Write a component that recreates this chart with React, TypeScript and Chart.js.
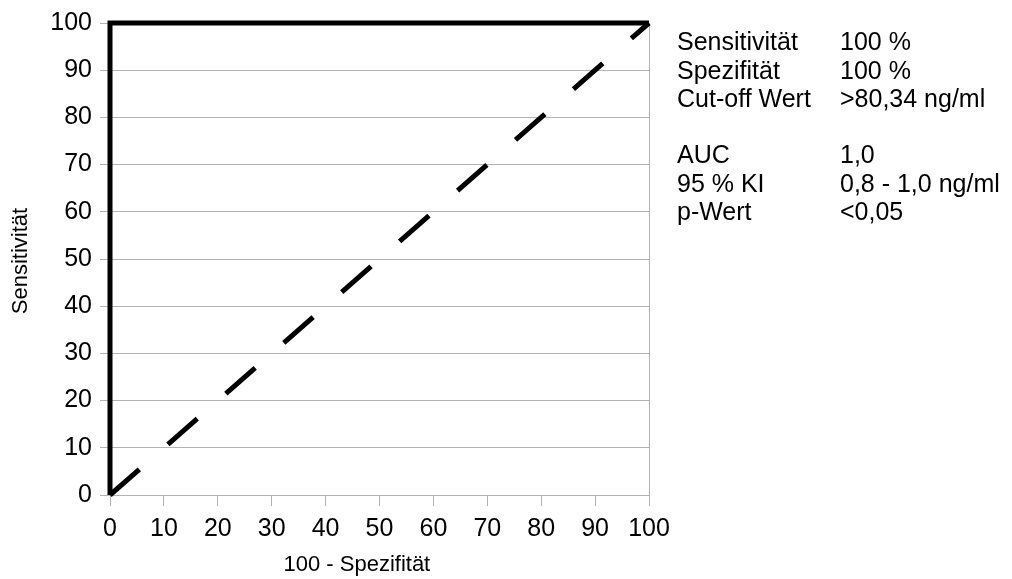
import React, { useEffect, useRef } from "react";
import { Chart, registerables } from "chart.js";

Chart.register(...registerables);

const rocX = [0, 0, 100];
const rocY = [0, 100, 100];
const refX = [0, 100];
const refY = [0, 100];
const tickValues = [0, 10, 20, 30, 40, 50, 60, 70, 80, 90, 100];
const xTitle = "100 - Spezifität";
const yTitle = "Sensitivität";
const statLabels1 = ["Sensitivität", "Spezifität", "Cut-off Wert"];
const statValues1 = ["100 %", "100 %", ">80,34 ng/ml"];
const statLabels2 = ["AUC", "95 % KI", "p-Wert"];
const statValues2 = ["1,0", "0,8 - 1,0 ng/ml", "<0,05"];

const FONT = "'Liberation Sans', Arial, sans-serif";
const GRID = "#b3b3b3";

const overlay = {
  id: "overlay",
  beforeDatasetsDraw(chart: any) {
    const { ctx, chartArea } = chart;
    ctx.save();
    ctx.strokeStyle = GRID;
    ctx.lineWidth = 1;
    ctx.beginPath();
    ctx.moveTo(Math.round(chartArea.right) + 0.5, chartArea.top);
    ctx.lineTo(Math.round(chartArea.right) + 0.5, chartArea.bottom);
    ctx.stroke();
    ctx.restore();
  },
  afterDraw(chart: any) {
    const { ctx, chartArea } = chart;
    ctx.save();
    ctx.fillStyle = "#000";
    // axis titles
    ctx.font = `22px ${FONT}`;
    ctx.textAlign = "center";
    ctx.textBaseline = "alphabetic";
    ctx.fillText(xTitle, chartArea.left + (chartArea.right - chartArea.left) * 0.458, 571);
    ctx.save();
    ctx.translate(27, (chartArea.top + chartArea.bottom) / 2 + 2);
    ctx.rotate(-Math.PI / 2);
    ctx.fillText(yTitle, 0, 0);
    ctx.restore();
    // stats text
    ctx.font = `25px ${FONT}`;
    ctx.textAlign = "left";
    const col1 = chartArea.right + 28;
    const col2 = chartArea.right + 191;
    const lh = 28.5;
    statLabels1.forEach((t, i) => {
      ctx.fillText(t, col1, 50 + i * lh);
      ctx.fillText(statValues1[i], col2, 50 + i * lh);
    });
    statLabels2.forEach((t, i) => {
      ctx.fillText(t, col1, 163 + i * lh);
      ctx.fillText(statValues2[i], col2, 163 + i * lh);
    });
    ctx.restore();
  },
};

export default function App() {
  const ref = useRef<HTMLCanvasElement>(null);
  useEffect(() => {
    if (!ref.current) return;
    const chart = new Chart(ref.current, {
      type: "scatter",
      data: {
        datasets: [
          {
            data: refX.map((x, i) => ({ x, y: refY[i] })),
            showLine: true,
            borderColor: "#000",
            borderWidth: 5,
            borderDash: [39, 38],
            borderCapStyle: "butt",
            pointRadius: 0,
            clip: false,
          } as any,
          {
            data: rocX.map((x, i) => ({ x, y: rocY[i] })),
            showLine: true,
            borderColor: "#000",
            borderWidth: 5,
            borderJoinStyle: "miter",
            borderCapStyle: "butt",
            pointRadius: 0,
            clip: false,
          } as any,
        ],
      },
      options: {
        animation: false,
        responsive: false,
        layout: { padding: { left: 50, right: 363, top: 21, bottom: 0 } },
        plugins: { legend: { display: false }, tooltip: { enabled: false } },
        scales: {
          x: {
            type: "linear",
            min: 0,
            max: 100,
            afterBuildTicks: (s: any) => {
              s.ticks = tickValues.map((v) => ({ value: v }));
            },
            afterFit: (s: any) => {
              s.height = 84;
            },
            ticks: { font: { family: FONT, size: 25 }, color: "#000", padding: 8, maxRotation: 0 },
            grid: { drawOnChartArea: false, drawTicks: true, tickLength: 11, color: GRID },
            border: { color: GRID },
          },
          y: {
            type: "linear",
            min: 0,
            max: 100,
            afterBuildTicks: (s: any) => {
              s.ticks = tickValues.map((v) => ({ value: v }));
            },
            afterFit: (s: any) => {
              s.width = 60;
            },
            ticks: { font: { family: FONT, size: 25 }, color: "#000", padding: 8 },
            grid: { drawOnChartArea: true, drawTicks: true, tickLength: 10, color: GRID },
            border: { color: GRID },
          },
        },
      },
      plugins: [overlay],
    });
    return () => chart.destroy();
  }, []);
  return (
    <div style={{ position: "fixed", left: 0, top: 0, width: 1012, height: 579, background: "#fff" }}>
      <canvas ref={ref} width={1012} height={579} />
    </div>
  );
}
